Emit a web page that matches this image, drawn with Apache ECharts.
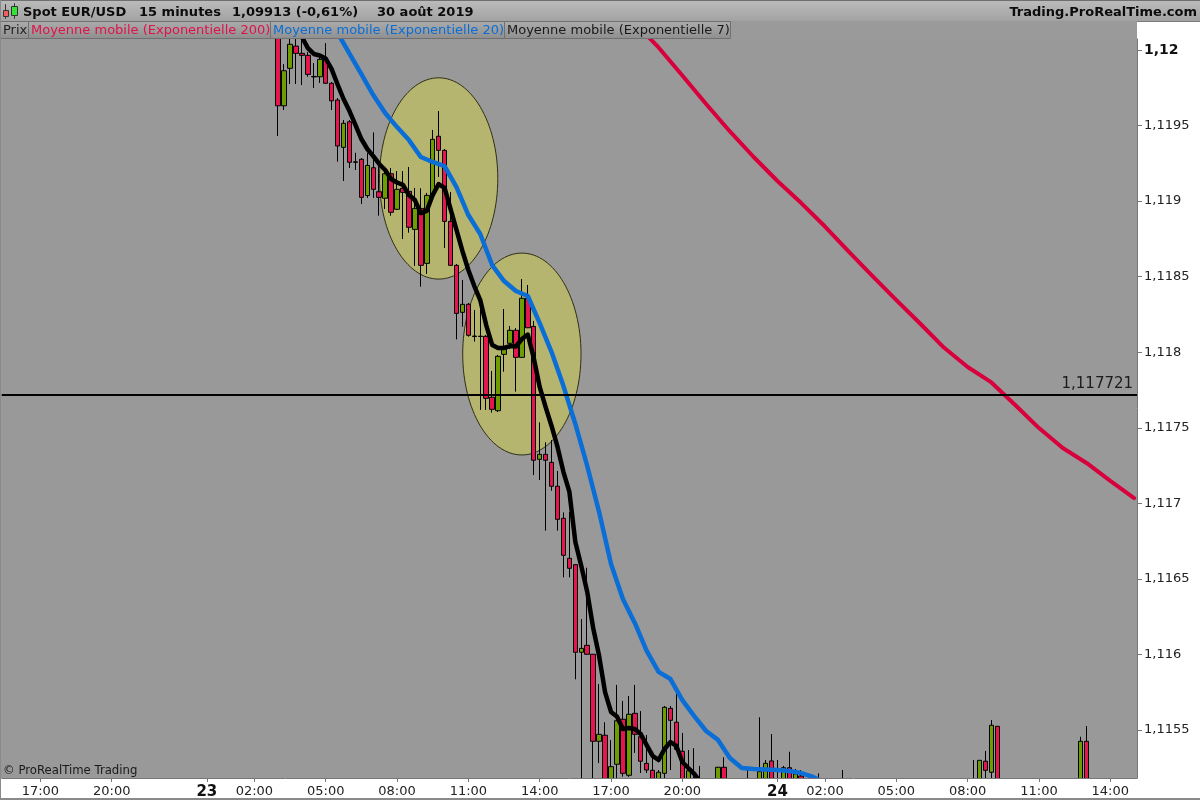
<!DOCTYPE html>
<html>
<head>
<meta charset="utf-8">
<title>Spot EUR/USD 15 minutes</title>
<style>
  html, body { margin: 0; padding: 0; background: #fff; }
  #chart { width: 1200px; height: 800px; }
</style>
<script src="https://cdn.jsdelivr.net/npm/echarts@6/dist/echarts.min.js"></script>
</head>
<body>
<div id="chart"></div>
<script>
// 15 minute bars, bar 0 is 15:30 on the 22nd
const barCount = 191;
const xTickBars = [6, 18, 34, 42, 54, 66, 78, 90, 102, 114, 130, 138, 150, 162, 174, 186];
const xTickLabels = ['17:00', '20:00', '23', '02:00', '05:00', '08:00', '11:00', '14:00', '17:00', '20:00', '24', '02:00', '05:00', '08:00', '11:00', '14:00'];
const yTicks = [1.12, 1.1195, 1.119, 1.1185, 1.118, 1.1175, 1.117, 1.1165, 1.116, 1.1155];
const yTickLabels = ['1,12', '1,1195', '1,119', '1,1185', '1,118', '1,1175', '1,117', '1,1165', '1,116', '1,1155'];
const priceLine = 1.117721;

// candles that show on the picture, the others are off scale
const candleBars = [46, 47, 48, 49, 50, 51, 52, 53, 54, 55,
  56, 57, 58, 59, 60, 61, 62, 63, 64, 65,
  66, 67, 68, 69, 70, 71, 72, 73, 74, 75,
  76, 77, 78, 79, 80, 81, 82, 83, 84, 85,
  86, 87, 88, 89, 90, 91, 92, 93, 94, 95,
  96, 97, 98, 99, 100, 101, 102, 103, 104, 105,
  106, 107, 108, 109, 110, 111, 112, 113, 114, 115,
  116, 117, 120, 121, 125, 127, 128, 129, 130, 131, 132, 133, 134, 137, 141, 163, 164, 165, 166, 167, 181, 182];
const opens = [1.120199, 1.119631, 1.119879, 1.120026, 1.119978, 1.119965, 1.119825, 1.119823, 1.119938, 1.119780,
  1.119669, 1.119356, 1.119525, 1.119260, 1.119277, 1.119037, 1.119221, 1.119062, 1.119019, 1.119181,
  1.118946, 1.119085, 1.119065, 1.118813, 1.118952, 1.118588, 1.119040, 1.119429, 1.119336, 1.118866,
  1.118575, 1.118264, 1.118317, 1.118107, 1.118106, 1.118105, 1.117702, 1.117613, 1.117986, 1.118059,
  1.118145, 1.117966, 1.118357, 1.118171, 1.117291, 1.117324, 1.117271, 1.117113, 1.116901, 1.116636,
  1.116594, 1.116014, 1.116060, 1.116001, 1.115425, 1.115465, 1.115103, 1.115273, 1.115571, 1.115200,
  1.115610, 1.115455, 1.115279, 1.115233, 1.115103, 1.115213, 1.115643, 1.115551, 1.115359, 1.115103,
  1.115100, 1.115100, 1.115103, 1.115253, 1.115100, 1.115103, 1.115103, 1.115295, 1.115100, 1.115103, 1.115250, 1.115103, 1.115195, 1.115100, 1.115100, 1.115100, 1.115103, 1.115293, 1.115220, 1.115524, 1.115103, 1.115425];
const closes = [1.119631, 1.119863, 1.120038, 1.119978, 1.119965, 1.119839, 1.119822, 1.119938, 1.119780, 1.119664,
  1.119365, 1.119515, 1.119257, 1.119257, 1.119025, 1.119236, 1.119078, 1.119025, 1.119181, 1.118926,
  1.119078, 1.119058, 1.118827, 1.118952, 1.118575, 1.119038, 1.119409, 1.119336, 1.118866, 1.118575,
  1.118257, 1.118317, 1.118112, 1.118104, 1.118104, 1.117695, 1.117622, 1.117973, 1.118019, 1.118145,
  1.117966, 1.118357, 1.118162, 1.117285, 1.117324, 1.117285, 1.117113, 1.116894, 1.116656, 1.116570,
  1.116014, 1.116040, 1.116001, 1.115425, 1.115471, 1.115103, 1.115257, 1.115561, 1.115213, 1.115604,
  1.115471, 1.115293, 1.115235, 1.115103, 1.115220, 1.115650, 1.115564, 1.115372, 1.115103, 1.115230,
  1.115080, 1.115080, 1.115253, 1.115103, 1.115080, 1.115224, 1.115279, 1.115103, 1.115080, 1.115250, 1.115103, 1.115209, 1.115103, 1.115080, 1.115080, 1.115080, 1.115299, 1.115233, 1.115531, 1.115103, 1.115425, 1.115103];
const lows = [1.119431, 1.119603, 1.119775, 1.119775, 1.119768, 1.119823, 1.119749, 1.119782, 1.119775, 1.119603,
  1.119261, 1.119133, 1.119219, 1.119206, 1.118981, 1.119021, 1.119021, 1.118904, 1.118948, 1.118903,
  1.118941, 1.118749, 1.118791, 1.118571, 1.118434, 1.118518, 1.119027, 1.119160, 1.118690, 1.118571,
  1.118085, 1.118169, 1.118103, 1.118070, 1.117618, 1.117618, 1.117600, 1.117604, 1.117871, 1.118021,
  1.117739, 1.117962, 1.118160, 1.117187, 1.117154, 1.116819, 1.117083, 1.116819, 1.116510, 1.116510,
  1.115835, 1.115103, 1.115996, 1.115103, 1.115281, 1.115070, 1.115070, 1.115136, 1.115191, 1.115189,
  1.115348, 1.115215, 1.115215, 1.115070, 1.115070, 1.115136, 1.115235, 1.115367, 1.115070, 1.115070,
  1.115050, 1.115050, 1.115050, 1.115050, 1.115050, 1.115050, 1.115050, 1.115050, 1.115050, 1.115050, 1.115050, 1.115050, 1.115050, 1.115050, 1.115050, 1.115050, 1.115050, 1.115050, 1.115050, 1.115050, 1.115050, 1.115050];
const highs = [1.120265, 1.119907, 1.120093, 1.120093, 1.120066, 1.119987, 1.119914, 1.119967, 1.120046, 1.119788,
  1.119682, 1.119537, 1.119537, 1.119320, 1.119285, 1.119318, 1.119455, 1.119232, 1.119219, 1.119219,
  1.119199, 1.119199, 1.119226, 1.119087, 1.119085, 1.119054, 1.119471, 1.119596, 1.119345, 1.119060,
  1.118584, 1.118478, 1.118326, 1.118279, 1.118332, 1.118114, 1.117876, 1.117982, 1.118286, 1.118173,
  1.118160, 1.118484, 1.118445, 1.118207, 1.117536, 1.117404, 1.117419, 1.117214, 1.116940, 1.116943,
  1.116598, 1.116234, 1.116574, 1.116003, 1.115804, 1.115551, 1.115434, 1.115798, 1.115692, 1.115725,
  1.115798, 1.115625, 1.115467, 1.115356, 1.115235, 1.115659, 1.115659, 1.115753, 1.115480, 1.115367,
  1.115379, 1.115262, 1.115255, 1.115319, 1.115253, 1.115584, 1.115301, 1.115473, 1.115301, 1.115262, 1.115356, 1.115242, 1.115235, 1.115213, 1.115235, 1.115301, 1.115301, 1.115361, 1.115566, 1.115524, 1.115455, 1.115526];

// moving averages: the fast one read at every bar, then every 2 bars, the slow one every 4
const ema7Start = 50;
const ema7 = [1.120086, 1.120013, 1.119974, 1.119964, 1.119944, 1.119874, 1.119772, 1.119676, 1.119596, 1.119504,
  1.119411, 1.119345, 1.119298, 1.119246, 1.119206, 1.119146, 1.119123, 1.119107, 1.119040, 1.119007,
  1.118921, 1.118935, 1.119040, 1.119113, 1.119087, 1.118948, 1.118809, 1.118670, 1.118544, 1.118438,
  1.118345, 1.118180, 1.118048, 1.118028, 1.118028, 1.118041, 1.118038, 1.118087, 1.118117, 1.117962,
  1.117770, 1.117637, 1.117512, 1.117373, 1.117207, 1.117075, 1.116744, 1.116585, 1.116413, 1.116175,
  1.115989, 1.115751, 1.115619, 1.115589, 1.115506, 1.115513, 1.115506, 1.115473, 1.115400, 1.115328,
  1.115301, 1.115374, 1.115420, 1.115394, 1.115288, 1.115248, 1.115209, 1.115156, 1.115103];
const ema20Start = 56;
const ema20 = [1.120113, 1.119977, 1.119841, 1.119702, 1.119583, 1.119490, 1.119404, 1.119292, 1.119259, 1.119232,
  1.119093, 1.118908, 1.118782, 1.118577, 1.118471, 1.118405, 1.118372, 1.118193, 1.118001, 1.117776,
  1.117525, 1.117247, 1.116942, 1.116598, 1.116367, 1.116208, 1.116023, 1.115884, 1.115837, 1.115698,
  1.115592, 1.115493, 1.115434, 1.115314, 1.115248, 1.115242, 1.115238, 1.115235, 1.115228, 1.115215,
  1.115189, 1.115149];
const ema200Start = 106;
const ema200 = [1.120179, 1.120017, 1.119831, 1.119643, 1.119461, 1.119292, 1.119133, 1.118987, 1.118832, 1.118666,
  1.118504, 1.118345, 1.118190, 1.118031, 1.117902, 1.117800, 1.117651, 1.117498, 1.117366, 1.117267,
  1.117148, 1.117035];

// the two circled zones: centre bar, centre price, half width in bars, half height in price
const zoneBars = [73.1, 87.1];
const zonePrices = [1.119150, 1.117988];
const zoneHalfBars = [9.95, 9.95];
const zoneHalfPrices = [0.000666, 0.000668];

const categories = Array.from({ length: barCount }, (_, i) => {
  const m = (15 * 60 + 30 + i * 15) % 1440;
  return String(Math.floor(m / 60)).padStart(2, '0') + ':' + String(m % 60).padStart(2, '0');
});
const candleData = categories.map(() => '-');
candleBars.forEach((bar, k) => {
  candleData[bar] = [opens[k], closes[k], lows[k], highs[k]];
});
const zoneData = zoneBars.map((bar, k) => [bar, zonePrices[k], zoneHalfBars[k], zoneHalfPrices[k]]);

const font = '"DejaVu Sans", Verdana, sans-serif';
const red = '#e5164e';
const green = '#6f9c00';

function lineSeries(name, start, step, values, color, width) {
  return {
    name: name,
    type: 'line',
    data: values.map((v, k) => [start + k * step, v]),
    showSymbol: false,
    smooth: false,
    z: 4,
    lineStyle: { color: color, width: width, cap: 'round', join: 'round' },
    silent: true
  };
}

function headerText(x, text, y, color, size, weight, align) {
  return {
    type: 'text', x: x, y: y, silent: true,
    style: { text: text, fill: color, font: (weight || 'normal') + ' ' + size + 'px ' + font, align: align || 'left', verticalAlign: 'middle' }
  };
}

function tab(x, width) {
  return {
    type: 'rect', silent: true,
    shape: { x: x + 0.5, y: 21.5, width: width, height: 17 },
    style: { fill: { type: 'linear', x: 0, y: 0, x2: 0, y2: 1, colorStops: [{ offset: 0, color: '#acacac' }, { offset: 1, color: '#8e8e8e' }] }, stroke: '#707070', lineWidth: 1 }
  };
}

const chart = echarts.init(document.getElementById('chart'));
chart.setOption({
  animation: false,
  backgroundColor: '#ffffff',
  grid: { left: 1.76, top: 39, width: 1135.3, height: 739, show: true, backgroundColor: '#999999', borderWidth: 0 },
  xAxis: {
    type: 'category',
    data: categories,
    boundaryGap: true,
    z: 30,
    axisLine: { lineStyle: { color: '#777777', width: 1 } },
    axisTick: { show: true, alignWithLabel: true, length: 4, interval: (i) => xTickBars.includes(i), lineStyle: { color: '#777777' } },
    axisLabel: {
      interval: (i) => xTickBars.includes(i),
      margin: 7,
      color: '#222222',
      fontFamily: font,
      fontSize: 13,
      hideOverlap: false,
      formatter: (value, i) => {
        const label = xTickLabels[xTickBars.indexOf(i)];
        return label.length === 2 ? '{day|' + label + '}' : label;
      },
      rich: { day: { fontFamily: font, fontWeight: 'bold', fontSize: 15, color: '#111111' } }
    },
    splitLine: { show: false }
  },
  yAxis: {
    type: 'value',
    position: 'right',
    min: 1.115182,
    max: 1.120073,
    scale: true,
    z: 30,
    axisLine: { show: true, lineStyle: { color: '#777777', width: 1 } },
    axisTick: { show: true, length: 5, customValues: yTicks, lineStyle: { color: '#777777' } },
    axisLabel: {
      customValues: yTicks,
      margin: 7,
      color: '#222222',
      fontFamily: font,
      fontSize: 13,
      formatter: (value) => {
        const k = yTicks.indexOf(value);
        return k === 0 ? '{top|' + yTickLabels[k] + '}' : yTickLabels[k];
      },
      rich: { top: { fontFamily: font, fontWeight: 'bold', fontSize: 14, color: '#111111' } }
    },
    splitLine: { show: false }
  },
  series: [
    {
      name: 'Zones',
      type: 'custom',
      data: zoneData,
      z: 1,
      silent: true,
      encode: { x: 0, y: 1 },
      renderItem: (params, api) => {
        const centre = api.coord([api.value(0), api.value(1)]);
        const band = api.size([1, 0])[0];
        const high = api.size([0, api.value(3)], [api.value(0), api.value(1)])[1];
        return {
          type: 'ellipse',
          shape: { cx: centre[0], cy: centre[1], rx: band * api.value(2), ry: high },
          style: { fill: '#b5b570', stroke: '#2e2e14', lineWidth: 1 }
        };
      }
    },
    {
      name: 'Prix',
      type: 'candlestick',
      data: candleData,
      barWidth: 5,
      z: 2,
      silent: true,
      clip: true,
      itemStyle: { color: green, color0: red, borderColor: '#000000', borderColor0: '#000000', borderColorDoji: '#000000', borderWidth: 1 },
      markLine: {
        silent: true,
        symbol: 'none',
        precision: 6,
        z: 5,
        lineStyle: { color: '#000000', width: 2, type: 'solid' },
        label: {
          position: 'insideEndTop',
          distance: [4, 3],
          color: '#1c1c1c',
          fontFamily: font,
          fontSize: 15,
          formatter: () => String(priceLine).replace('.', ',')
        },
        data: [{ yAxis: priceLine }]
      }
    },
    lineSeries('Moyenne mobile (Exponentielle 200)', ema200Start, 4, ema200, '#d8003c', 4),
    lineSeries('Moyenne mobile (Exponentielle 20)', ema20Start, 2, ema20, '#0a6ed6', 4.5),
    lineSeries('Moyenne mobile (Exponentielle 7)', ema7Start, 1, ema7, '#000000', 4.5)
  ],
  graphic: {
    elements: [
      // white strip under the plot, hides the off scale candles
      { type: 'rect', silent: true, z: 25, shape: { x: 1, y: 779, width: 1136, height: 19 }, style: { fill: '#ffffff' } },
      { type: 'rect', silent: true, z: 1, shape: { x: 1, y: 39, width: 1, height: 739 }, style: { fill: '#999999' } },
      // title bar
      {
        type: 'rect', silent: true, z: 20,
        shape: { x: 0, y: 0, width: 1200, height: 21 },
        style: { fill: { type: 'linear', x: 0, y: 0, x2: 0, y2: 1, colorStops: [{ offset: 0, color: '#bcbcbc' }, { offset: 1, color: '#a2a2a2' }] } }
      },
      { type: 'rect', silent: true, z: 20, shape: { x: 0, y: 0, width: 1200, height: 1 }, style: { fill: '#6f6f6f' } },
      { type: 'rect', silent: true, z: 20, shape: { x: 0, y: 21, width: 1137, height: 18 }, style: { fill: '#9a9a9a' } },
      { type: 'rect', silent: true, z: 20, shape: { x: 1137, y: 21, width: 63, height: 1 }, style: { fill: '#7a7a7a' } },
      { type: 'rect', silent: true, z: 26, shape: { x: 0, y: 0, width: 1, height: 800 }, style: { fill: '#8a8a8a' } },
      { type: 'rect', silent: true, z: 26, shape: { x: 0, y: 798, width: 1200, height: 2 }, style: { fill: '#8a8a8a' } },
      // small candle icon
      { type: 'rect', silent: true, z: 21, shape: { x: 5.5, y: 4.5, width: 0, height: 14 }, style: { stroke: '#333333', lineWidth: 1 } },
      { type: 'rect', silent: true, z: 21, shape: { x: 3.5, y: 10.5, width: 5, height: 6 }, style: { fill: '#f25c5c', stroke: '#333333', lineWidth: 1 } },
      { type: 'rect', silent: true, z: 21, shape: { x: 14.5, y: 3.5, width: 0, height: 15 }, style: { stroke: '#333333', lineWidth: 1 } },
      { type: 'rect', silent: true, z: 21, shape: { x: 11.5, y: 6.5, width: 6, height: 9 }, style: { fill: '#34e334', stroke: '#333333', lineWidth: 1 } },
      Object.assign(headerText(23, 'Spot EUR/USD', 12.5, '#0c0c0c', 13, 'bold'), { z: 21 }),
      Object.assign(headerText(139, '15 minutes', 12.5, '#0c0c0c', 13, 'bold'), { z: 21 }),
      Object.assign(headerText(232, '1,09913 (-0,61%)', 12.5, '#0c0c0c', 13, 'bold'), { z: 21 }),
      Object.assign(headerText(377, '30 août 2019', 12.5, '#0c0c0c', 13, 'bold'), { z: 21 }),
      Object.assign(headerText(1197, 'Trading.ProRealTime.com', 12.5, '#0c0c0c', 13, 'bold', 'right'), { z: 21 }),
      // tabs naming the series
      Object.assign(tab(0, 28), { z: 21 }),
      Object.assign(tab(28, 242), { z: 21 }),
      Object.assign(tab(270, 234), { z: 21 }),
      Object.assign(tab(504, 226), { z: 21 }),
      Object.assign(headerText(3, 'Prix', 30.5, '#222222', 13), { z: 22 }),
      Object.assign(headerText(31, 'Moyenne mobile (Exponentielle 200)', 30.5, '#e0124c', 13), { z: 22 }),
      Object.assign(headerText(273, 'Moyenne mobile (Exponentielle 20)', 30.5, '#0a6ed6', 13), { z: 22 }),
      Object.assign(headerText(507, 'Moyenne mobile (Exponentielle 7)', 30.5, '#1a1a1a', 13), { z: 22 }),
      Object.assign(headerText(3, '© ProRealTime Trading', 771, '#1a1a1a', 11.7), { z: 22 })
    ]
  }
});
</script>
</body>
</html>
